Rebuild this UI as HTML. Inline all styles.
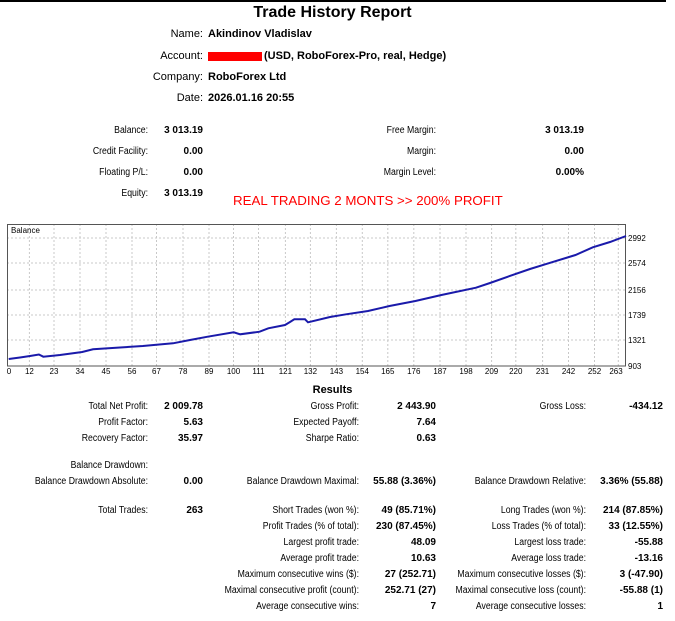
<!DOCTYPE html>
<html><head><meta charset="utf-8"><style>
body{margin:0;width:675px;height:621px;background:#fff;position:relative;overflow:hidden;font-family:"Liberation Sans",Arial,sans-serif;color:#000}
.r{position:absolute;width:300px;text-align:right;font-size:10px;line-height:12px;white-space:nowrap;transform:scaleX(.87);transform-origin:right center}
.b{font-weight:bold;transform:none}
.l{position:absolute;font-size:11px;line-height:13px;white-space:nowrap;font-weight:bold}
.t{transform:none}
</style></head><body>
<div style="position:absolute;left:0;top:0;width:666px;height:2px;background:#000"></div>
<div style="position:absolute;left:0;width:665px;top:4px;text-align:center;font-size:16px;font-weight:bold">Trade History Report</div>
<div class="r t" style="left:-97px;top:28px;font-size:11px">Name:</div><div class="l" style="left:208px;top:28px">Akindinov Vladislav</div>
<div class="r t" style="left:-97px;top:50px;font-size:11px">Account:</div><div style="position:absolute;left:208px;top:52px;width:54px;height:9px;background:#f00"></div><div class="l" style="left:264px;top:50px">(USD, RoboForex-Pro, real, Hedge)</div>
<div class="r t" style="left:-97px;top:71px;font-size:11px">Company:</div><div class="l" style="left:208px;top:71px">RoboForex Ltd</div>
<div class="r t" style="left:-97px;top:92px;font-size:11px">Date:</div><div class="l" style="left:208px;top:92px">2026.01.16 20:55</div>

<div class="r" style="left:-152px;top:125px">Balance:</div><div class="r b" style="left:-97px;top:125px">3 013.19</div>
<div class="r" style="left:-152px;top:146px">Credit Facility:</div><div class="r b" style="left:-97px;top:146px">0.00</div>
<div class="r" style="left:-152px;top:167px">Floating P/L:</div><div class="r b" style="left:-97px;top:167px">0.00</div>
<div class="r" style="left:-152px;top:188px">Equity:</div><div class="r b" style="left:-97px;top:188px">3 013.19</div>
<div class="r" style="left:136px;top:125px">Free Margin:</div><div class="r b" style="left:284px;top:125px">3 013.19</div>
<div class="r" style="left:136px;top:146px">Margin:</div><div class="r b" style="left:284px;top:146px">0.00</div>
<div class="r" style="left:136px;top:167px">Margin Level:</div><div class="r b" style="left:284px;top:167px">0.00%</div>
<div style="position:absolute;left:233px;top:193px;font-size:13.3px;color:#f00;white-space:nowrap">REAL TRADING 2 MONTS &gt;&gt; 200% PROFIT</div>

<svg style="position:absolute;left:0;top:0" width="675" height="621">
<g stroke="#c8c8c8" stroke-dasharray="2,2" stroke-width="1">
<line x1="7" x2="626" y1="238" y2="238"/><line x1="7" x2="626" y1="263" y2="263"/><line x1="7" x2="626" y1="290" y2="290"/><line x1="7" x2="626" y1="315" y2="315"/><line x1="7" x2="626" y1="340" y2="340"/>
<line y1="224" y2="366" x1="29.4" x2="29.4"/><line y1="224" y2="366" x1="54" x2="54"/><line y1="224" y2="366" x1="80" x2="80"/><line y1="224" y2="366" x1="106" x2="106"/><line y1="224" y2="366" x1="132" x2="132"/><line y1="224" y2="366" x1="156.5" x2="156.5"/><line y1="224" y2="366" x1="183" x2="183"/><line y1="224" y2="366" x1="209" x2="209"/><line y1="224" y2="366" x1="233.5" x2="233.5"/><line y1="224" y2="366" x1="258.5" x2="258.5"/><line y1="224" y2="366" x1="285.4" x2="285.4"/><line y1="224" y2="366" x1="310.4" x2="310.4"/><line y1="224" y2="366" x1="336.4" x2="336.4"/><line y1="224" y2="366" x1="362.3" x2="362.3"/><line y1="224" y2="366" x1="387.8" x2="387.8"/><line y1="224" y2="366" x1="413.8" x2="413.8"/><line y1="224" y2="366" x1="440" x2="440"/><line y1="224" y2="366" x1="466" x2="466"/><line y1="224" y2="366" x1="491.6" x2="491.6"/><line y1="224" y2="366" x1="515.8" x2="515.8"/><line y1="224" y2="366" x1="542.6" x2="542.6"/><line y1="224" y2="366" x1="568.5" x2="568.5"/><line y1="224" y2="366" x1="594.5" x2="594.5"/><line y1="224" y2="366" x1="618.3" x2="618.3"/>
</g>
<rect x="7.5" y="224.5" width="618" height="141.5" fill="none" stroke="#555"/>
<text x="11" y="233" font-size="8" font-family="Liberation Sans,sans-serif">Balance</text>
<polyline fill="none" stroke="#1a1aaa" stroke-width="2" points="8.7,359 20,357.5 30,356 38.9,354.5 43.3,356.7 60,355 82.2,352 93,349.3 120,347.5 142.8,346 173,343.3 190,340 207.7,336.7 233.7,332.3 240.2,334.3 259.6,331.7 268.3,328.3 285,325 290,322 294.3,319.3 305,319.3 308,322.3 330,317 346,314.3 368,311 389.5,306 415.4,301 441.4,295 476,287.7 490,283 510.6,275.7 530,269 545.2,264.3 575.5,255 592.8,247.3 610,242 626,236"/>
<g font-size="8" font-family="Liberation Sans,sans-serif">
<text x="628" y="241">2992</text><text x="628" y="266">2574</text><text x="628" y="293">2156</text><text x="628" y="318">1739</text><text x="628" y="343">1321</text><text x="628" y="369">903</text>
</g>
<g font-size="8" font-family="Liberation Sans,sans-serif" text-anchor="middle">
<text x="9" y="374">0</text><text x="29.4" y="374">12</text><text x="54" y="374">23</text><text x="80" y="374">34</text><text x="106" y="374">45</text><text x="132" y="374">56</text><text x="156.5" y="374">67</text><text x="183" y="374">78</text><text x="209" y="374">89</text><text x="233.5" y="374">100</text><text x="258.5" y="374">111</text><text x="285.4" y="374">121</text><text x="310.4" y="374">132</text><text x="336.4" y="374">143</text><text x="362.3" y="374">154</text><text x="387.8" y="374">165</text><text x="413.8" y="374">176</text><text x="440" y="374">187</text><text x="466" y="374">198</text><text x="491.6" y="374">209</text><text x="515.8" y="374">220</text><text x="542.6" y="374">231</text><text x="568.5" y="374">242</text><text x="594.5" y="374">252</text><text x="616" y="374">263</text>
</g>
</svg>

<div style="position:absolute;left:0;width:665px;top:384px;text-align:center;font-size:11px;font-weight:bold">Results</div>
<div class="r" style="left:-152px;top:401px">Total Net Profit:</div><div class="r b" style="left:-97px;top:401px">2 009.78</div>
<div class="r" style="left:59px;top:401px">Gross Profit:</div><div class="r b" style="left:136px;top:401px">2 443.90</div>
<div class="r" style="left:286px;top:401px">Gross Loss:</div><div class="r b" style="left:363px;top:401px">-434.12</div>
<div class="r" style="left:-152px;top:417px">Profit Factor:</div><div class="r b" style="left:-97px;top:417px">5.63</div>
<div class="r" style="left:59px;top:417px">Expected Payoff:</div><div class="r b" style="left:136px;top:417px">7.64</div>
<div class="r" style="left:-152px;top:433px">Recovery Factor:</div><div class="r b" style="left:-97px;top:433px">35.97</div>
<div class="r" style="left:59px;top:433px">Sharpe Ratio:</div><div class="r b" style="left:136px;top:433px">0.63</div>
<div class="r" style="left:-152px;top:460px">Balance Drawdown:</div>
<div class="r" style="left:-152px;top:476px">Balance Drawdown Absolute:</div><div class="r b" style="left:-97px;top:476px">0.00</div>
<div class="r" style="left:59px;top:476px">Balance Drawdown Maximal:</div><div class="r b" style="left:136px;top:476px">55.88 (3.36%)</div>
<div class="r" style="left:286px;top:476px">Balance Drawdown Relative:</div><div class="r b" style="left:363px;top:476px">3.36% (55.88)</div>
<div class="r" style="left:-152px;top:505px">Total Trades:</div><div class="r b" style="left:-97px;top:505px">263</div>
<div class="r" style="left:59px;top:505px">Short Trades (won %):</div><div class="r b" style="left:136px;top:505px">49 (85.71%)</div>
<div class="r" style="left:286px;top:505px">Long Trades (won %):</div><div class="r b" style="left:363px;top:505px">214 (87.85%)</div>
<div class="r" style="left:59px;top:521px">Profit Trades (% of total):</div><div class="r b" style="left:136px;top:521px">230 (87.45%)</div>
<div class="r" style="left:286px;top:521px">Loss Trades (% of total):</div><div class="r b" style="left:363px;top:521px">33 (12.55%)</div>
<div class="r" style="left:59px;top:537px">Largest profit trade:</div><div class="r b" style="left:136px;top:537px">48.09</div>
<div class="r" style="left:286px;top:537px">Largest loss trade:</div><div class="r b" style="left:363px;top:537px">-55.88</div>
<div class="r" style="left:59px;top:553px">Average profit trade:</div><div class="r b" style="left:136px;top:553px">10.63</div>
<div class="r" style="left:286px;top:553px">Average loss trade:</div><div class="r b" style="left:363px;top:553px">-13.16</div>
<div class="r" style="left:59px;top:569px">Maximum consecutive wins ($):</div><div class="r b" style="left:136px;top:569px">27 (252.71)</div>
<div class="r" style="left:286px;top:569px">Maximum consecutive losses ($):</div><div class="r b" style="left:363px;top:569px">3 (-47.90)</div>
<div class="r" style="left:59px;top:585px">Maximal consecutive profit (count):</div><div class="r b" style="left:136px;top:585px">252.71 (27)</div>
<div class="r" style="left:286px;top:585px">Maximal consecutive loss (count):</div><div class="r b" style="left:363px;top:585px">-55.88 (1)</div>
<div class="r" style="left:59px;top:601px">Average consecutive wins:</div><div class="r b" style="left:136px;top:601px">7</div>
<div class="r" style="left:286px;top:601px">Average consecutive losses:</div><div class="r b" style="left:363px;top:601px">1</div>
</body></html>
